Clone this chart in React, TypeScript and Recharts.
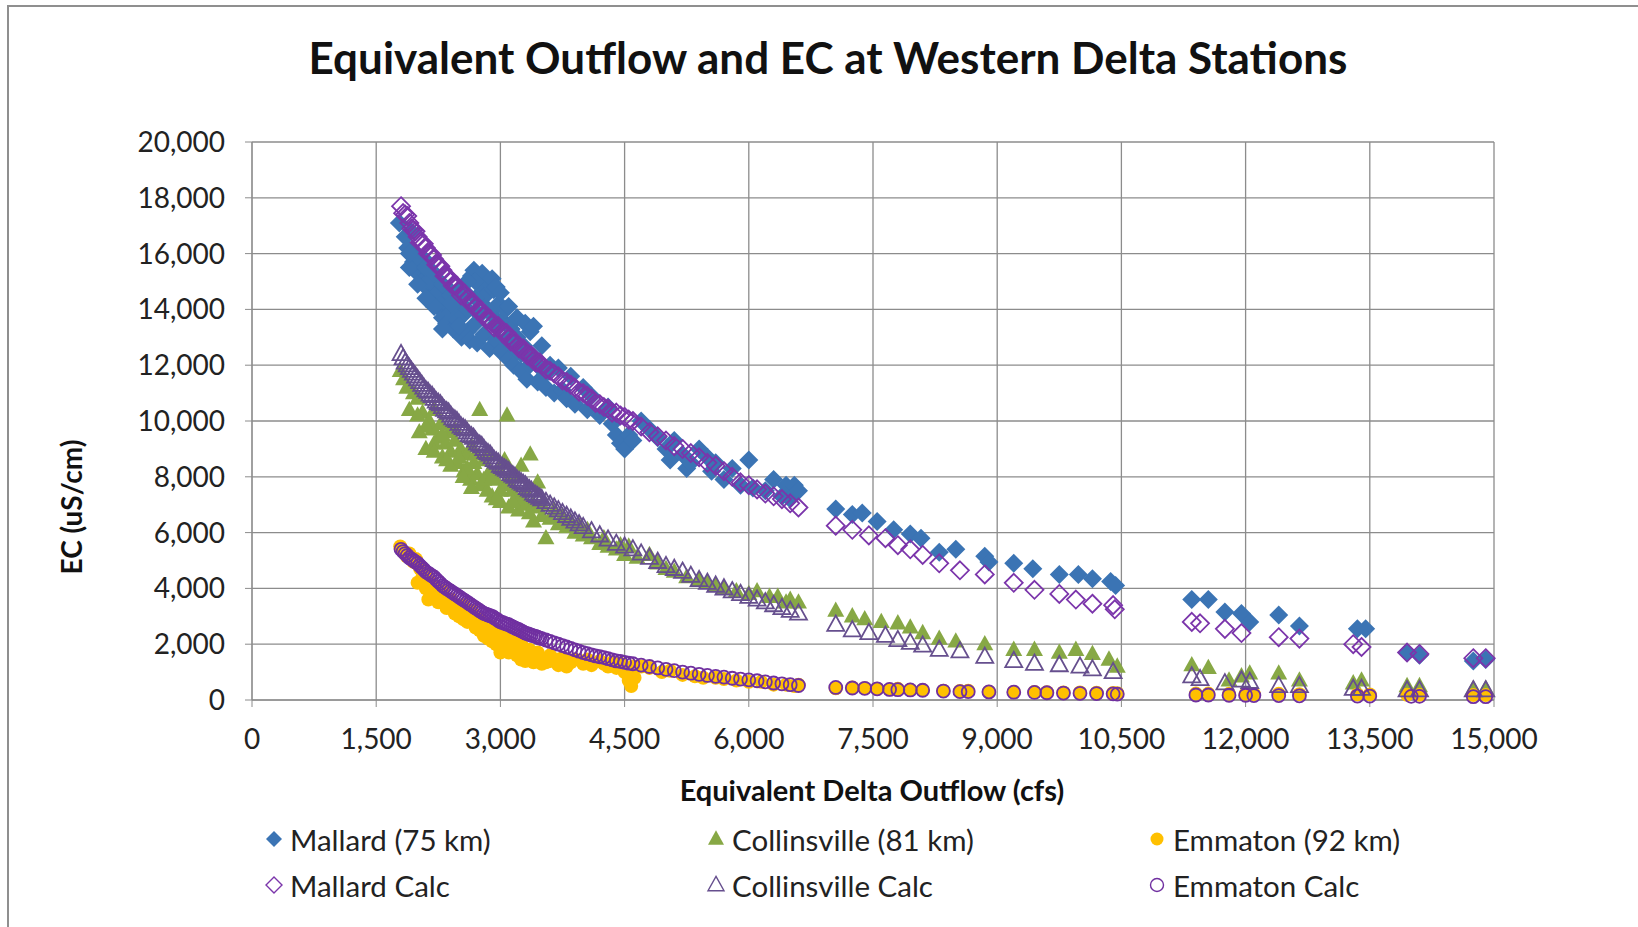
import { ScatterChart, Scatter, XAxis, YAxis, CartesianGrid } from 'recharts';

const xTicks = [0, 1500, 3000, 4500, 6000, 7500, 9000, 10500, 12000, 13500, 15000];
const yTicks = [0, 2000, 4000, 6000, 8000, 10000, 12000, 14000, 16000, 18000, 20000];

const mallard: [number, number][] = [
  [1780, 17100], [1850, 16600], [1880, 16200], [1920, 16800], [1950, 15700], [1980, 16000], [2000, 15300],
  [2030, 15600], [2060, 15000], [2080, 15800], [2100, 14800], [2120, 15400], [2150, 15100], [2180, 14500],
  [2200, 14900], [2220, 14200], [2250, 14600], [2280, 14000], [2300, 13700], [2320, 14300], [2350, 13500],
  [2380, 14700], [2400, 13900], [2430, 13300], [2450, 14400], [2480, 13600], [2500, 14100], [2530, 13000],
  [2550, 13800], [2580, 14600], [2600, 13200], [2630, 12900], [2650, 15200], [2680, 15400], [2700, 13500],
  [2720, 12800], [2750, 14900], [2780, 15300], [2800, 13100], [2820, 14500], [2850, 15000], [2870, 12600],
  [2900, 13800], [2920, 14700], [2950, 12900], [2980, 14200], [3000, 12500], [3030, 13600], [3060, 14000],
  [3100, 12200], [3130, 13300], [3160, 12000], [3200, 13000], [3240, 11800], [3280, 12700], [3320, 11500],
  [3360, 13200], [3400, 12300], [3450, 11400], [3500, 12700], [3550, 11200], [3600, 12000], [3650, 11000],
  [3700, 11900], [3750, 11100], [3800, 10800], [3850, 11600], [3900, 10600], [4000, 11200], [4050, 10400],
  [4100, 10900], [4200, 10200], [4300, 10500], [4350, 9900], [4400, 9500], [4450, 9200], [4500, 9000],
  [4550, 9500], [4600, 9300], [4700, 10000], [4800, 9700], [4900, 9400], [5000, 9000], [5050, 8600],
  [5100, 9300], [5200, 8800], [5250, 8300], [5300, 8500], [5400, 9000], [5500, 8700], [5550, 8200],
  [5600, 8500], [5700, 7900], [5800, 8300], [5900, 7700], [6000, 8600], [6050, 7600], [6200, 7500],
  [6300, 7900], [6400, 7300], [6450, 7700], [6500, 7200], [6550, 7700], [6600, 7500],
  [1900, 15500], [2000, 15900], [2100, 15500], [2200, 15300], [2300, 14900], [2400, 14500], [2500, 13400],
  [2600, 14000], [2700, 14400], [2750, 13800], [2850, 14000], [2950, 13500], [3050, 12900], [3150, 12700],
  [3250, 12400], [3350, 12000], [3450, 12000], [3550, 11700], [2900, 15100], [2950, 14800], [3000, 14600],
  [3100, 14100], [3200, 13700], [3300, 13500], [3400, 13400], [2700, 15000], [2600, 15000], [2500, 14700],
  [2400, 14200], [2300, 13300], [2200, 14100], [2100, 14400], [2000, 14900], [1900, 16000],
  [7050, 6850], [7250, 6650], [7370, 6700], [7550, 6400], [7750, 6100], [7950, 5950], [8080, 5800],
  [8300, 5300], [8500, 5400], [8850, 5150], [8900, 4950], [9200, 4900], [9430, 4700], [9750, 4500],
  [9980, 4500], [10150, 4350], [10370, 4250], [10430, 4100], [11350, 3600], [11550, 3600], [11750, 3150],
  [11950, 3100], [12050, 2800], [12400, 3050], [12650, 2650], [13350, 2550], [13450, 2550], [13950, 1700],
  [14100, 1600], [14750, 1400], [14900, 1450],
];

const collinsville: [number, number][] = [
  [1790, 11800], [1830, 11500], [1870, 11200], [1900, 10400], [1950, 11000], [2000, 10800], [2020, 9600],
  [2060, 10300], [2100, 9000], [2140, 10000], [2180, 9700], [2200, 10400], [2250, 9400], [2280, 9900],
  [2300, 8700], [2340, 9200], [2380, 9600], [2400, 8900], [2450, 9300], [2480, 8500], [2520, 9000],
  [2560, 8200], [2600, 8800], [2640, 7900], [2680, 8500], [2720, 8100], [2750, 10400], [2760, 7700],
  [2800, 8600], [2840, 7500], [2870, 8200], [2900, 7300], [2940, 7900], [2980, 8300], [3000, 7100],
  [3040, 7700], [3080, 10200], [3100, 6900], [3140, 7500], [3180, 8000], [3220, 6800], [3260, 7300],
  [3300, 7000], [3360, 8800], [3400, 6400], [3450, 6900], [3500, 6600], [3550, 5800], [3600, 6500],
  [3700, 6300], [3800, 6200], [3900, 6000], [4000, 5900], [4100, 5800], [4200, 5600], [4300, 5500],
  [4400, 5400], [4500, 5200], [4550, 5500], [4650, 5100], [4800, 5200], [4900, 4900], [5000, 4700],
  [5100, 4600], [5250, 4400], [5400, 4300], [5500, 4200], [5600, 4100], [5700, 4000], [5850, 3900],
  [6000, 3800], [6100, 3900], [6250, 3700], [6350, 3700], [6450, 3500], [6500, 3600], [6600, 3500],
  [2000, 10200], [2100, 9800], [2200, 9200], [2300, 9500], [2400, 8400], [2500, 8700], [2600, 8300],
  [2700, 8800], [2800, 7900], [2900, 8000], [3000, 7500], [3100, 7800], [3200, 7200], [3300, 7500],
  [3400, 7000], [3500, 7000], [2200, 8900], [2350, 8600], [2550, 8000], [2650, 7600], [2950, 7200],
  [3150, 7100], [3350, 6700], [2450, 9700], [2650, 9100], [2850, 8800], [3050, 8600], [3250, 8400],
  [3450, 7800], [3650, 6800], [3750, 6600], [3850, 6400], [3950, 6250], [4050, 6100], [4250, 5800],
  [4450, 5550],
  [7050, 3200], [7250, 3000], [7400, 2900], [7600, 2800], [7800, 2750], [7950, 2600], [8100, 2400],
  [8300, 2200], [8500, 2100], [8850, 2000], [9200, 1800], [9450, 1800], [9750, 1700], [9950, 1800],
  [10150, 1650], [10350, 1450], [10450, 1200], [11350, 1250], [11550, 1150], [11800, 700], [11950, 850],
  [12050, 950], [12400, 950], [12650, 700], [13300, 600], [13400, 700], [13950, 500], [14100, 500],
  [14750, 400], [14900, 400],
];

const emmaton: [number, number][] = [
  [1790, 5500], [1830, 5300], [1870, 5150], [1900, 5250], [1950, 4950], [1980, 5050], [2000, 4200],
  [2030, 4700], [2060, 4400], [2100, 4000], [2130, 3600], [2160, 4200], [2200, 3800], [2250, 3500],
  [2300, 3900], [2350, 3300], [2400, 3600], [2450, 3100], [2500, 3000], [2550, 3400], [2600, 2800],
  [2650, 3200], [2700, 2600], [2750, 2900], [2800, 2300], [2850, 2700], [2900, 2100], [2950, 2500],
  [3000, 1900], [3050, 2300], [3100, 1700], [3150, 2100], [3200, 1600], [3250, 2000], [3300, 1400],
  [3350, 1800], [3400, 1350], [3450, 1700], [3500, 1300], [3600, 1600], [3700, 1250], [3750, 1500],
  [3800, 1200], [3900, 1450], [4000, 1300], [4100, 1250], [4200, 1400], [4300, 1200], [4400, 1150],
  [4450, 1300], [4500, 1000], [4550, 700], [4580, 500], [4620, 800], [4800, 1150], [4950, 1000],
  [2100, 4500], [2200, 4100], [2300, 3500], [2400, 3300], [2500, 3200], [2600, 3000], [2700, 2800],
  [2800, 2600], [2900, 2400], [3000, 2200], [3100, 2000], [3200, 1900], [3300, 1700], [3400, 1550],
  [3500, 1500], [3600, 1400], [3700, 1450], [3850, 1350], [4050, 1450], [4250, 1300], [4350, 1350],
  [2550, 2900], [2750, 2500], [2950, 2000], [3150, 1800], [3350, 1500], [3550, 1350], [3000, 1700],
  [3250, 1450], [2850, 2200], [4600, 1200], [4700, 1200],
  [5050, 1050], [5200, 900], [5350, 850], [5450, 800], [5600, 800], [5700, 750], [5850, 700],
  [6000, 650], [6150, 650], [6300, 550], [6450, 550], [6550, 500], [6600, 550],
  [7050, 420], [7250, 450], [7400, 420], [7550, 400], [7700, 380], [7800, 400], [7950, 370], [8100, 360],
  [8350, 330], [8550, 320], [8650, 330], [8900, 300], [9200, 290], [9450, 290], [9600, 280], [9800, 270],
  [10000, 270], [10200, 260], [10400, 250], [10450, 240], [11400, 230], [11550, 230], [11800, 220],
  [12000, 220], [12100, 210], [12400, 220], [12650, 210], [13350, 200], [13500, 200], [13950, 190],
  [14100, 190], [14750, 180], [14900, 180],
];

const mallardCalc: [number, number][] = [
  [1800, 17700], [1850, 17400], [1900, 17100], [1950, 16850], [2000, 16600], [2050, 16400], [2100, 16200],
  [2150, 16000], [2200, 15800], [2250, 15600], [2300, 15400], [2350, 15200], [2400, 15000], [2450, 14850],
  [2500, 14700], [2550, 14550], [2600, 14400], [2650, 14250], [2700, 14100], [2750, 13950], [2800, 13800],
  [2850, 13650], [2900, 13500], [2950, 13400], [3000, 13300], [3050, 13150], [3100, 13000], [3150, 12850],
  [3200, 12700], [3250, 12600], [3300, 12500], [3350, 12350], [3400, 12200], [3450, 12100], [3500, 12000],
  [3600, 11800], [3700, 11600], [3800, 11400], [3900, 11200], [4000, 11000], [4100, 10800], [4200, 10600],
  [4300, 10450], [4400, 10300], [4500, 10150], [4600, 10000], [4800, 9600], [4900, 9450], [5000, 9300],
  [5200, 9000], [5300, 8850], [5400, 8700], [5600, 8400], [5700, 8200], [5800, 8000], [6000, 7700],
  [6100, 7550], [6200, 7400], [6300, 7300], [6400, 7200], [6500, 7050], [6600, 6900],
  [1825, 17450], [1875, 17350], [1925, 16900], [1975, 16800], [2025, 16400], [2075, 16350], [2125, 16000],
  [2175, 15950], [2225, 15600], [2275, 15550], [2325, 15200], [2375, 15150], [2425, 14850], [2475, 14850],
  [2525, 14500], [2575, 14550], [2625, 14250], [2675, 14250], [2725, 13950], [2775, 13950], [2825, 13650],
  [2875, 13650], [2925, 13350], [2975, 13400], [3025, 13150], [3075, 13150], [3125, 12850], [3175, 12850],
  [3225, 12600], [3275, 12600], [3325, 12350], [3375, 12350], [3425, 12100], [3475, 12100], [3550, 11850],
  [3650, 11700], [3750, 11450], [3850, 11300], [3950, 11050], [4050, 10900], [4150, 10650], [4250, 10500],
  [4350, 10300], [4450, 10200], [4550, 10050], [4700, 9800], [5100, 9100], [5500, 8500], [5900, 7800],
  [7050, 6250], [7250, 6100], [7450, 5900], [7650, 5800], [7800, 5550], [7950, 5400], [8100, 5200],
  [8300, 4900], [8550, 4650], [8850, 4500], [9200, 4200], [9450, 3950], [9750, 3800], [9950, 3600],
  [10150, 3450], [10400, 3400], [10420, 3250], [11350, 2800], [11450, 2750], [11750, 2550], [11950, 2400],
  [12400, 2250], [12650, 2200], [13300, 2000], [13400, 1900], [13950, 1700], [14100, 1650], [14750, 1500],
  [14900, 1500],
];

const collinsvilleCalc: [number, number][] = [
  [1800, 12400], [1850, 12100], [1900, 11900], [1950, 11700], [2000, 11500], [2050, 11300], [2100, 11100],
  [2150, 10950], [2200, 10800], [2250, 10650], [2300, 10500], [2350, 10350], [2400, 10200], [2450, 10050],
  [2500, 9900], [2550, 9750], [2600, 9600], [2650, 9450], [2700, 9300], [2750, 9150], [2800, 9000],
  [2850, 8850], [2900, 8700], [2950, 8550], [3000, 8400], [3050, 8300], [3100, 8200], [3150, 8050],
  [3200, 7900], [3250, 7800], [3300, 7700], [3350, 7550], [3400, 7400], [3450, 7300], [3500, 7200],
  [3600, 7000], [3700, 6800], [3800, 6600], [3900, 6400], [4000, 6200], [4200, 5900], [4400, 5600],
  [4600, 5400], [4800, 5100], [5000, 4800], [5200, 4600], [5400, 4300], [5600, 4100], [5800, 3900],
  [6000, 3700], [6200, 3500], [6400, 3300], [6600, 3100],
  [1825, 12250], [1875, 12000], [1925, 11800], [1975, 11600], [2025, 11400], [2075, 11200], [2125, 11050],
  [2175, 10900], [2225, 10700], [2275, 10600], [2325, 10400], [2375, 10300], [2425, 10100], [2475, 10000],
  [2525, 9800], [2575, 9700], [2625, 9500], [2675, 9400], [2725, 9200], [2775, 9100], [2825, 8900],
  [2875, 8800], [2925, 8600], [2975, 8500], [3025, 8350], [3075, 8250], [3125, 8100], [3175, 8000],
  [3225, 7850], [3275, 7750], [3325, 7600], [3375, 7500], [3425, 7350], [3475, 7250], [3550, 7100],
  [3650, 6900], [3750, 6700], [3850, 6500], [3950, 6300], [4100, 6050], [4300, 5750], [4500, 5500],
  [4700, 5250], [4900, 4950], [5100, 4700], [5300, 4450], [5500, 4200], [5700, 4000], [5900, 3800],
  [6100, 3600], [6300, 3400], [6500, 3200],
  [7050, 2700], [7250, 2500], [7450, 2400], [7650, 2300], [7800, 2150], [7950, 2050], [8100, 1950],
  [8300, 1800], [8550, 1750], [8850, 1550], [9200, 1400], [9450, 1300], [9750, 1250], [10000, 1200],
  [10150, 1100], [10400, 1000], [11350, 850], [11450, 750], [11750, 600], [11950, 700], [12050, 650],
  [12400, 500], [12650, 500], [13300, 400], [13400, 400], [13950, 350], [14100, 350], [14750, 350],
  [14900, 350],
];

const emmatonCalc: [number, number][] = [
  [1800, 5400], [1850, 5250], [1900, 5100], [1950, 5000], [2000, 4900], [2050, 4750], [2100, 4600],
  [2150, 4500], [2200, 4400], [2250, 4250], [2300, 4100], [2350, 4000], [2400, 3900], [2450, 3800],
  [2500, 3700], [2550, 3600], [2600, 3500], [2650, 3400], [2700, 3300], [2750, 3200], [2800, 3100],
  [2850, 3050], [2900, 3000], [2950, 2900], [3000, 2800], [3050, 2750], [3100, 2700], [3150, 2620],
  [3200, 2550], [3250, 2480], [3300, 2400], [3350, 2350], [3400, 2300], [3450, 2250], [3500, 2200],
  [3600, 2100], [3700, 2000], [3800, 1900], [3900, 1800], [4000, 1700], [4100, 1620], [4200, 1550],
  [4300, 1480], [4400, 1400], [4500, 1350], [4600, 1300], [4800, 1200], [5000, 1100], [5200, 1000],
  [5400, 920], [5600, 850], [5800, 780], [6000, 720], [6200, 650], [6400, 580], [6600, 520],
  [1825, 5320], [1875, 5180], [1925, 5050], [1975, 4950], [2025, 4820], [2075, 4680], [2125, 4550],
  [2175, 4450], [2225, 4320], [2275, 4180], [2325, 4050], [2375, 3950], [2425, 3850], [2475, 3750],
  [2525, 3650], [2575, 3550], [2625, 3450], [2675, 3350], [2725, 3250], [2775, 3150], [2825, 3080],
  [2875, 3020], [2925, 2950], [2975, 2850], [3025, 2780], [3075, 2720], [3125, 2660], [3175, 2580],
  [3225, 2520], [3275, 2440], [3325, 2380], [3375, 2320], [3425, 2280], [3475, 2220], [3550, 2150],
  [3650, 2050], [3750, 1950], [3850, 1850], [3950, 1750], [4050, 1660], [4150, 1580], [4250, 1520],
  [4350, 1440], [4450, 1380], [4550, 1320], [4700, 1250], [4900, 1150], [5100, 1050], [5300, 960],
  [5500, 880], [5700, 820], [5900, 750], [6100, 690], [6300, 610], [6500, 550],
  [7050, 450], [7250, 430], [7400, 420], [7550, 400], [7700, 380], [7800, 370], [7950, 360], [8100, 350],
  [8350, 320], [8550, 300], [8650, 300], [8900, 290], [9200, 280], [9450, 270], [9600, 260], [9800, 250],
  [10000, 240], [10200, 230], [10400, 220], [10450, 210], [11400, 180], [11550, 180], [11800, 170],
  [12000, 170], [12100, 160], [12400, 160], [12650, 150], [13350, 140], [13500, 140], [14000, 130],
  [14100, 130], [14750, 120], [14900, 120],
];

const FONT = 'Lato, "Open Sans", sans-serif';
const GRID = '#8c8c8c';

const toPts = (arr: [number, number][]) => arr.map(([x, y]) => ({ x, y }));

type Kind = 'diamond' | 'triangle' | 'circle';

function marker(kind: Kind, cx: number, cy: number, r: number, fill: string, stroke: string, sw: number) {
  if (kind === 'diamond') {
    return <polygon points={`${cx},${cy - r} ${cx + r},${cy} ${cx},${cy + r} ${cx - r},${cy}`} fill={fill} stroke={stroke} strokeWidth={sw} />;
  }
  if (kind === 'triangle') {
    const h = r * 1.8;
    return <polygon points={`${cx},${cy - h * 0.6} ${cx + r},${cy + h * 0.4} ${cx - r},${cy + h * 0.4}`} fill={fill} stroke={stroke} strokeWidth={sw} />;
  }
  return <circle cx={cx} cy={cy} r={r} fill={fill} stroke={stroke} strokeWidth={sw} />;
}

const series = [
  { name: 'Mallard (75 km)', data: mallard, kind: 'diamond' as Kind, r: 9.5, fill: '#3b74b4', stroke: '#3b74b4', sw: 0 },
  { name: 'Collinsville (81 km)', data: collinsville, kind: 'triangle' as Kind, r: 8.5, fill: '#87a845', stroke: '#87a845', sw: 0 },
  { name: 'Emmaton (92 km)', data: emmaton, kind: 'circle' as Kind, r: 7, fill: '#ffc000', stroke: '#ffc000', sw: 0 },
  { name: 'Mallard Calc', data: mallardCalc, kind: 'diamond' as Kind, r: 9, fill: 'none', stroke: '#7b35ab', sw: 1.8 },
  { name: 'Collinsville Calc', data: collinsvilleCalc, kind: 'triangle' as Kind, r: 8.5, fill: 'none', stroke: '#664f8e', sw: 1.8 },
  { name: 'Emmaton Calc', data: emmatonCalc, kind: 'circle' as Kind, r: 6.5, fill: 'none', stroke: '#7030a0', sw: 1.8 },
];

const legendCols = [274, 716, 1157];
const legendRows = [839, 885];

export default function App() {
  return (
    <div style={{ position: 'absolute', left: 0, top: 0, width: 1638, height: 927, background: '#fff', fontFamily: FONT }}>
      <div style={{ position: 'absolute', left: 7, top: 5, width: 1631, height: 922, borderTop: '2px solid #8f8f8f', borderLeft: '2px solid #8f8f8f' }} />
      <div style={{ position: 'absolute', left: 0, top: 30, width: 1656, textAlign: 'center', fontSize: 44, fontWeight: 700, lineHeight: '54px', color: '#111' }}>
        Equivalent Outflow and EC at Western Delta Stations
      </div>
      <ScatterChart width={1638} height={927} margin={{ top: 142, right: 144, bottom: 167, left: 152 }}>
        <CartesianGrid stroke={GRID} strokeWidth={1.3} />
        <XAxis
          type="number"
          dataKey="x"
          domain={[0, 15000]}
          ticks={xTicks}
          interval={0}
          height={60}
          tickSize={7}
          tickMargin={22}
          stroke={GRID}
          tick={{ fill: '#222', fontSize: 28, fontFamily: FONT }}
          tickFormatter={(v: number) => v.toLocaleString('en-US')}
          label={() => (
            <text x={872} y={789} textAnchor="middle" dominantBaseline="central" fontSize={29} fontWeight={700} fontFamily={FONT} fill="#111">
              Equivalent Delta Outflow (cfs)
            </text>
          )}
        />
        <YAxis
          type="number"
          dataKey="y"
          domain={[0, 20000]}
          ticks={yTicks}
          interval={0}
          width={100}
          tickSize={7}
          tickMargin={20}
          stroke={GRID}
          tick={{ fill: '#222', fontSize: 28, fontFamily: FONT }}
          tickFormatter={(v: number) => v.toLocaleString('en-US')}
          label={() => (
            <text x={71} y={507} transform="rotate(-90 71 507)" textAnchor="middle" dominantBaseline="central" fontSize={28} fontWeight={700} fontFamily={FONT} fill="#111">
              EC (uS/cm)
            </text>
          )}
        />
        {series.map((s) => (
          <Scatter
            key={s.name}
            name={s.name}
            data={toPts(s.data)}
            isAnimationActive={false}
            shape={(p: any) => marker(s.kind, p.cx, p.cy, s.r, s.fill, s.stroke, s.sw)}
          />
        ))}
      </ScatterChart>
      {series.map((s, i) => {
        const cx = legendCols[i % 3];
        const cy = legendRows[Math.floor(i / 3)];
        return (
          <div key={s.name} style={{ position: 'absolute', left: cx - 11, top: cy - 20, height: 40, display: 'flex', alignItems: 'center' }}>
            <svg width={22} height={40} style={{ display: 'block' }}>
              {marker(s.kind, 11, 20, s.kind === 'circle' ? 6.5 : 8, s.fill === 'none' ? '#fff' : s.fill, s.stroke, s.sw ? 1.4 : 0)}
            </svg>
            <span style={{ marginLeft: 5, fontSize: 29.5, color: '#222', whiteSpace: 'nowrap' }}>{s.name}</span>
          </div>
        );
      })}
    </div>
  );
}
